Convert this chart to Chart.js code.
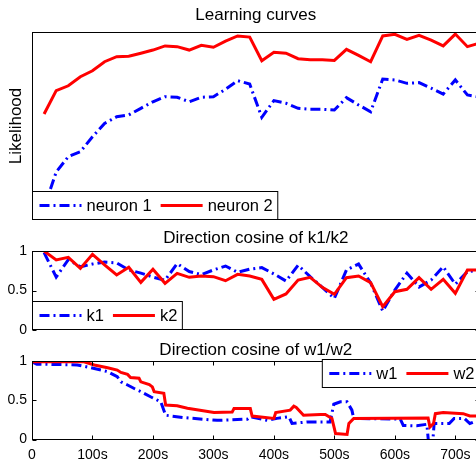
<!DOCTYPE html>
<html>
<head>
<meta charset="utf-8">
<script src="https://cdn.jsdelivr.net/npm/chart.js@4.4.0/dist/chart.umd.min.js"></script>
<style>
html, body { margin: 0; padding: 0; background: #fff; overflow: hidden; width: 476px; height: 459px; }
canvas { position: absolute; left: 0; top: 0; }
</style>
</head>
<body>
<canvas id="curves" width="490" height="480"></canvas>
<canvas id="kcos" width="490" height="480"></canvas>
<canvas id="wcos" width="490" height="480"></canvas>
<script>
// time steps (s) for the learning curves and k cosines
const steps = [20, 40, 60, 80, 100, 120, 140, 160, 180, 200, 220, 240, 260, 280, 300, 320, 340, 360, 380,
  400, 420, 440, 460, 480, 500, 520, 540, 560, 580, 600, 620, 640, 660, 680, 700, 720, 740];

// likelihood (no tick labels in the original, normalised to the axes)
const neuron1 = [0.064, 0.255, 0.337, 0.363, 0.443, 0.514, 0.549, 0.559, 0.594, 0.629,
  0.656, 0.653, 0.629, 0.653, 0.656, 0.695, 0.741, 0.723, 0.546, 0.635,
  0.621, 0.594, 0.589, 0.589, 0.585, 0.651, 0.612, 0.576, 0.75, 0.745,
  0.727, 0.731, 0.701, 0.670, 0.745, 0.665, 0.654];
const neuron2 = [0.564, 0.688, 0.714, 0.762, 0.794, 0.842, 0.869, 0.871, 0.887, 0.904,
  0.926, 0.922, 0.904, 0.929, 0.919, 0.951, 0.979, 0.973, 0.847, 0.892,
  0.887, 0.858, 0.853, 0.853, 0.849, 0.908, 0.876, 0.842, 0.979, 0.988,
  0.961, 0.982, 0.957, 0.926, 0.989, 0.922, 0.941];

// direction cosine k1/k2
const k1 = [0.98, 0.67, 0.89, 0.80, 0.835, 0.86, 0.85, 0.76, 0.72, 0.67,
  0.63, 0.84, 0.74, 0.70, 0.76, 0.81, 0.73, 0.77, 0.79, 0.71,
  0.62, 0.82, 0.675, 0.54, 0.40, 0.76, 0.835, 0.595, 0.24, 0.506,
  0.72, 0.544, 0.633, 0.80, 0.58, 0.738, 0.76];
const k2 = [1.0, 0.886, 0.92, 0.78, 0.958, 0.823, 0.696, 0.793, 0.603, 0.768,
  0.591, 0.717, 0.667, 0.684, 0.675, 0.624, 0.705, 0.684, 0.641, 0.388,
  0.456, 0.633, 0.667, 0.54, 0.452, 0.662, 0.684, 0.599, 0.295, 0.485,
  0.515, 0.662, 0.515, 0.641, 0.464, 0.759, 0.759];

// direction cosine w1/w2 (irregular sampling, steps)
const w1T = [0, 8, 75, 103, 125, 141, 147, 158, 169, 180, 196, 213, 221, 251, 306, 356, 361, 389, 405, 425,
  430, 455, 493, 499, 510, 521, 529, 532, 609, 614, 636, 653, 657, 662, 665, 690, 698, 715, 724, 740];
const w1V = [0.99, 0.96, 0.95, 0.905, 0.865, 0.80, 0.735, 0.695, 0.65, 0.61, 0.545, 0.48, 0.31, 0.28, 0.245, 0.26, 0.29, 0.245, 0.27, 0.29,
  0.205, 0.225, 0.225, 0.45, 0.48, 0.48, 0.375, 0.27, 0.26, 0.18, 0.175, 0.195, -0.15, -0.1, 0.205, 0.205, 0.27, 0.27, 0.205, 0.25];
const w2T = [0, 86, 103, 125, 141, 147, 158, 163, 177, 180, 194, 199, 202, 218, 221, 240, 257, 301, 331, 334,
  361, 364, 400, 403, 427, 433, 437, 449, 477, 485, 496, 502, 521, 524, 532, 655, 658, 664, 667, 680, 713, 724, 740];
const w2V = [0.99, 0.99, 0.95, 0.915, 0.885, 0.855, 0.83, 0.79, 0.78, 0.735, 0.70, 0.67, 0.61, 0.59, 0.44, 0.43, 0.40, 0.345, 0.35, 0.395,
  0.395, 0.30, 0.27, 0.345, 0.375, 0.425, 0.41, 0.31, 0.32, 0.32, 0.27, 0.077, 0.065, 0.205, 0.27, 0.275, 0.16, 0.205, 0.33, 0.345, 0.33, 0.30, 0.30];

const xTicks = [0, 100, 200, 300, 400, 500, 600, 700];
const tMax = 740;

const FONT = "'Liberation Sans', Arial, Helvetica, sans-serif";
Chart.defaults.font.family = FONT;
Chart.defaults.color = '#000';

const BLUE = '#0000ff';
const RED = '#ff0000';
const DASHDOT = [10, 4, 2, 4];

// matlab style box, inward ticks and a boxed legend in a corner
const matlabBox = {
  id: 'matlabBox',
  afterDatasetsDraw(chart, args, o) {
    const ctx = chart.ctx;
    const a = chart.chartArea;
    const L = Math.round(a.left) + 0.5, T = Math.round(a.top) + 0.5;
    const R = Math.round(a.right) - 0.5, B = Math.round(a.bottom) - 0.5;
    ctx.save();
    ctx.strokeStyle = '#000';
    ctx.lineWidth = 1;
    ctx.setLineDash([]);
    ctx.strokeRect(L, T, R - L, B - T);
    const len = 4;
    ctx.beginPath();
    if (o.yTicks) {
      const ys = chart.scales.y;
      ys.ticks.forEach(t => {
        const p = Math.round(ys.getPixelForValue(t.value)) + 0.5;
        ctx.moveTo(L, p); ctx.lineTo(L + len, p);
        ctx.moveTo(R, p); ctx.lineTo(R - len, p);
      });
    }
    if (o.xTicks) {
      const xs = chart.scales.x;
      xs.ticks.forEach(t => {
        const p = Math.round(xs.getPixelForValue(t.value)) + 0.5;
        ctx.moveTo(p, B); ctx.lineTo(p, B - len);
        ctx.moveTo(p, T); ctx.lineTo(p, T + len);
      });
    }
    ctx.stroke();

    // legend
    const lg = o.legend;
    if (lg) {
      ctx.font = '16.5px ' + FONT;
      const padL = 7, sample = 42, gapT = 5, gapI = 9, padR = 5, h = 28;
      const items = chart.data.datasets;
      let w = padL + padR;
      items.forEach((d, i) => { w += sample + gapT + ctx.measureText(d.label).width + (i ? gapI : 0); });
      const x0 = lg.corner === 'sw' ? Math.round(a.left) + 0.5 : Math.round(a.right) - 0.5 - w;
      const y0 = lg.corner === 'sw' ? Math.round(a.bottom) - 0.5 - h : Math.round(a.top) + 0.5 - 2;
      ctx.fillStyle = '#fff';
      ctx.fillRect(x0, y0, w, h);
      ctx.strokeStyle = '#000';
      ctx.lineWidth = 1;
      ctx.strokeRect(x0, y0, w, h);
      const cy = y0 + h / 2;
      let x = x0 + padL;
      items.forEach((d, i) => {
        if (i) x += gapI;
        ctx.strokeStyle = d.borderColor;
        ctx.lineWidth = d.borderWidth;
        ctx.setLineDash(d.borderDash || []);
        ctx.beginPath();
        ctx.moveTo(x, cy); ctx.lineTo(x + sample, cy);
        ctx.stroke();
        ctx.setLineDash([]);
        x += sample + gapT;
        ctx.fillStyle = '#000';
        ctx.textAlign = 'left';
        ctx.textBaseline = 'middle';
        ctx.fillText(d.label, x, cy + 1);
        x += ctx.measureText(d.label).width;
      });
    }
    ctx.restore();
  }
};

function series(label, color, dash, data, order) {
  return {
    label: label, data: data, borderColor: color, backgroundColor: color,
    borderWidth: 3, borderDash: dash, pointRadius: 0, tension: 0,
    fill: false, clip: 0, order: order
  };
}

function pairs(ts, vs) {
  return ts.map((t, i) => ({ x: t, y: vs[i] }));
}

function titleOpts(text, top, bottom) {
  return {
    display: true, text: text, color: '#000', fullSize: false,
    font: { size: 17, weight: 'normal' }, padding: { top: top, bottom: bottom }
  };
}

const hiddenX = { type: 'linear', min: 0, max: tMax, display: false };

function cosY() {
  return {
    min: 0, max: 1,
    ticks: { stepSize: 0.5, font: { size: 14 }, padding: 5, color: '#000', callback: v => String(v) },
    grid: { display: false, drawTicks: false },
    border: { display: false },
    afterFit(s) { s.width = 32; }
  };
}

// 1: learning curves
new Chart(document.getElementById('curves'), {
  type: 'line',
  data: {
    datasets: [
      series('neuron 1', BLUE, DASHDOT, pairs(steps, neuron1), 1),
      series('neuron 2', RED, [], pairs(steps, neuron2), 0)
    ]
  },
  options: {
    responsive: false, animation: false, devicePixelRatio: 1,
    layout: { padding: { left: 0, right: 10.5, top: 0, bottom: 260 } },
    scales: {
      x: hiddenX,
      y: {
        min: 0, max: 1,
        ticks: { display: false },
        grid: { display: false, drawTicks: false },
        border: { display: false },
        title: { display: true, text: 'Likelihood', color: '#000', font: { size: 17 }, padding: { top: 6, bottom: 0 } },
        afterFit(s) { s.width = 32; }
      }
    },
    plugins: {
      legend: { display: false },
      tooltip: { enabled: false },
      title: titleOpts('Learning curves', 4.8, 6.8),
      matlabBox: { legend: { corner: 'sw' } }
    }
  },
  plugins: [matlabBox]
});

// 2: direction cosine k1/k2
new Chart(document.getElementById('kcos'), {
  type: 'line',
  data: {
    datasets: [
      series('k1', BLUE, DASHDOT, pairs(steps, k1), 1),
      series('k2', RED, [], pairs(steps, k2), 0)
    ]
  },
  options: {
    responsive: false, animation: false, devicePixelRatio: 1,
    layout: { padding: { left: 0, right: 10.5, top: 222, bottom: 150 } },
    scales: { x: hiddenX, y: cosY() },
    plugins: {
      legend: { display: false },
      tooltip: { enabled: false },
      title: titleOpts('Direction cosine of k1/k2', 5.8, 2.8),
      matlabBox: { yTicks: true, legend: { corner: 'sw' } }
    }
  },
  plugins: [matlabBox]
});

// 3: direction cosine w1/w2
new Chart(document.getElementById('wcos'), {
  type: 'line',
  data: {
    datasets: [
      series('w1', BLUE, DASHDOT, pairs(w1T, w1V), 1),
      series('w2', RED, [], pairs(w2T, w2V), 0)
    ]
  },
  options: {
    responsive: false, animation: false, devicePixelRatio: 1,
    layout: { padding: { left: 0, right: 10.5, top: 336, bottom: 9.6 } },
    scales: {
      x: {
        type: 'linear', min: 0, max: tMax,
        afterBuildTicks(s) { s.ticks = xTicks.map(v => ({ value: v })); },
        ticks: {
          font: { size: 14 }, padding: 7, maxRotation: 0, autoSkip: false, color: '#000',
          callback: v => v === 0 ? '0' : v + 's'
        },
        grid: { display: false, drawTicks: false },
        border: { display: false }
      },
      y: cosY()
    },
    plugins: {
      legend: { display: false },
      tooltip: { enabled: false },
      title: titleOpts('Direction cosine of w1/w2', 3.8, 0.8),
      matlabBox: { yTicks: true, xTicks: true, legend: { corner: 'ne' } }
    }
  },
  plugins: [matlabBox]
});
</script>
</body>
</html>
